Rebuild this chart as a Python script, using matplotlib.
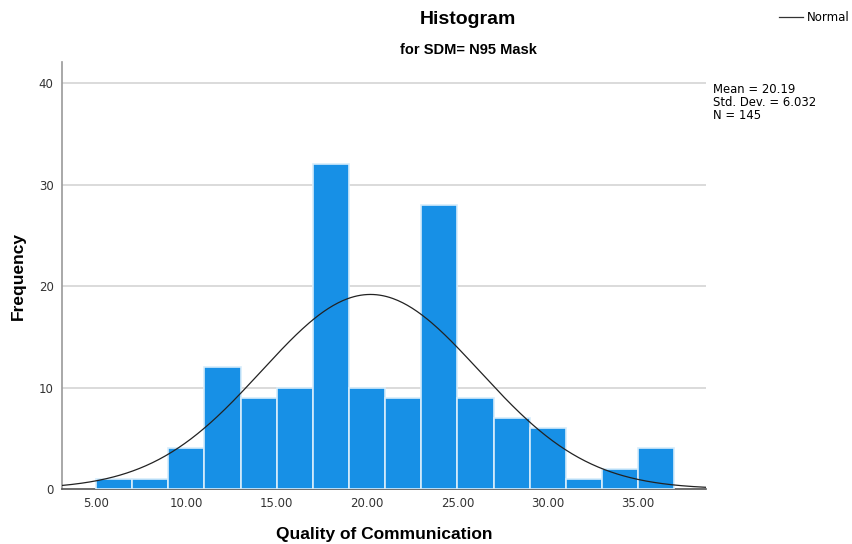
#!/usr/bin/env python
# Histogram of communication quality scores for the N95 mask group,
# with a fitted normal curve.

import numpy as np
from matplotlib import pyplot as plt
from matplotlib.lines import Line2D

plt.rcParams['font.family'] = ['Liberation Sans', 'DejaVu Sans']

# bin edges (width 2) and counts per bin
bin_edges = [5, 7, 9, 11, 13, 15, 17, 19, 21, 23, 25, 27, 29, 31, 33, 35, 37]
counts = [1, 1, 4, 12, 9, 10, 32, 10, 9, 28, 9, 7, 6, 1, 2, 4]

mean = 20.19
sd = 6.032
n = 145

xticks = [5, 10, 15, 20, 25, 30, 35]
yticks = [0, 10, 20, 30, 40]

fig = plt.figure(figsize=(8.53, 5.44), dpi=100)
ax = fig.add_axes([0.0727, 0.1011, 0.755, 0.785])

edges = np.array(bin_edges, dtype=float)
widths = np.diff(edges)
ax.bar(edges[:-1], counts, width=widths, align='edge',
       color='#1790e6', edgecolor='#d6ecfb', linewidth=1.2, zorder=3)

xlo, xhi = 3.12, 38.76
xs = np.linspace(xlo, xhi, 400)
binw = widths[0]
ys = n * binw / (sd * np.sqrt(2 * np.pi)) * np.exp(-0.5 * ((xs - mean) / sd) ** 2)
ax.plot(xs, ys, color='#222222', linewidth=0.9, zorder=4)

ax.set_xlim(xlo, xhi)
ax.set_ylim(0, 42.1)
ax.set_xticks(xticks)
ax.set_xticklabels(['%.2f' % v for v in xticks], family='DejaVu Sans',
                   fontsize=8.5, color='#333333')
ax.set_yticks(yticks)
ax.set_yticklabels([str(v) for v in yticks], family='DejaVu Sans',
                   fontsize=8.5, color='#333333')
ax.tick_params(length=0, pad=6)

for y in yticks[1:]:
    ax.axhline(y, color='#d4d4d4', linewidth=1.2, zorder=1)

for side in ('top', 'right'):
    ax.spines[side].set_visible(False)
ax.spines['left'].set_color('#999999')
ax.spines['bottom'].set_color('#555555')
ax.spines['left'].set_linewidth(1.2)
ax.spines['bottom'].set_linewidth(1.2)

# axis titles
fig.text(0.451, 0.018, 'Quality of Communication', ha='center', va='center',
         fontsize=12.5, fontweight='bold')
fig.text(0.021, 0.493, 'Frequency', ha='center', va='center',
         rotation=90, fontsize=12.5, fontweight='bold')

fig.text(0.549, 0.965, 'Histogram', ha='center', va='center',
         fontsize=14, fontweight='bold')
fig.text(0.549, 0.908, 'for SDM= N95 Mask', ha='center', va='center',
         fontsize=10.5, fontweight='bold')

fig.text(0.836, 0.812, 'Mean = 20.19\nStd. Dev. = 6.032\nN = 145',
         ha='left', va='center', family='DejaVu Sans', fontsize=8.4,
         linespacing=1.0)

handle = Line2D([], [], color='#333333', linewidth=0.9)
fig.legend([handle], ['Normal'], loc='center right',
           bbox_to_anchor=(1.008, 0.968), frameon=False, handlelength=2.0,
           handletextpad=0.3, prop={'family': 'DejaVu Sans', 'size': 8.5})

fig.savefig('out.png', dpi=100)
